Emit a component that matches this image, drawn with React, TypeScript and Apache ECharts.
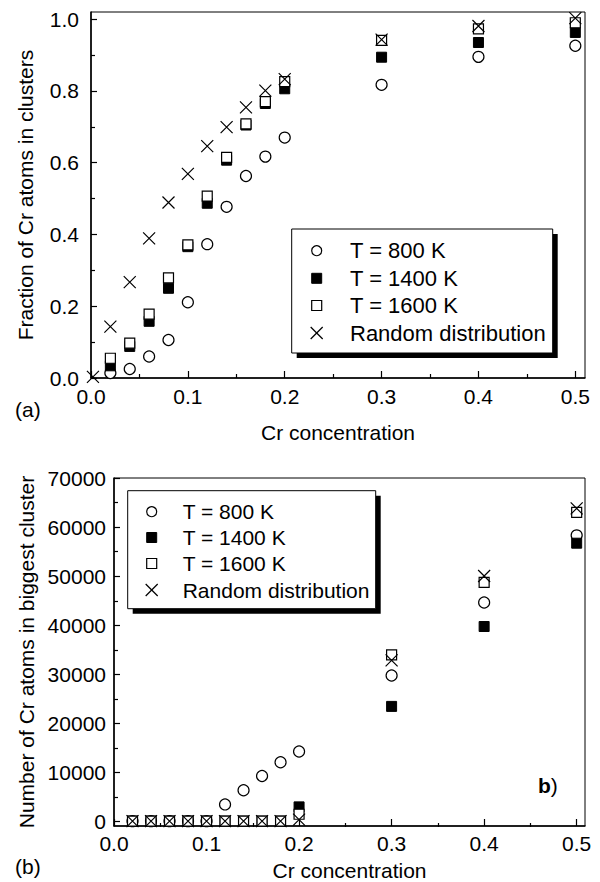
import React, { useEffect, useRef } from "react";
import * as echarts from "echarts";

// ---------- data ----------
const seriesNames = ["T = 800 K", "T = 1400 K", "T = 1600 K", "Random distribution"];
const conc = [0.02, 0.04, 0.06, 0.08, 0.1, 0.12, 0.14, 0.16, 0.18, 0.2, 0.3, 0.4, 0.5];
const concRandomTop = [0.002, 0.02, 0.04, 0.06, 0.08, 0.1, 0.12, 0.14, 0.16, 0.18, 0.2, 0.3, 0.4, 0.5];

// (a) fraction of Cr atoms in clusters
const fracT800 = [0.014, 0.025, 0.06, 0.106, 0.211, 0.373, 0.477, 0.563, 0.617, 0.67, 0.817, 0.895, 0.926];
const fracT1400 = [0.034, 0.088, 0.158, 0.25, 0.366, 0.487, 0.607, 0.705, 0.765, 0.806, 0.894, 0.935, 0.963];
const fracT1600 = [0.055, 0.097, 0.178, 0.279, 0.371, 0.507, 0.615, 0.708, 0.77, 0.826, 0.941, 0.973, 0.99];
const fracRandom = [0.003, 0.143, 0.267, 0.389, 0.489, 0.569, 0.646, 0.699, 0.754, 0.801, 0.833, 0.943, 0.981, 1.003];

// (b) number of Cr atoms in biggest cluster
const numT800 = [0, 0, 0, 0, 0, 3400, 6300, 9200, 12000, 14200, 29700, 44600, 58300];
const numT1400 = [0, 0, 0, 0, 0, 0, 0, 0, 0, 2900, 23400, 39700, 56700];
const numT1600 = [0, 0, 0, 0, 0, 0, 0, 0, 0, 1400, 33900, 48700, 63000];
const numRandom = [0, 0, 0, 0, 0, 0, 0, 0, 0, 300, 32800, 50000, 63800];

// ticks
const xMajor = [0, 0.1, 0.2, 0.3, 0.4, 0.5];
const xMinor = [0.05, 0.15, 0.25, 0.35, 0.45];
const yTopMajor = [0, 0.2, 0.4, 0.6, 0.8, 1.0];
const yTopMinor = [0.1, 0.3, 0.5, 0.7, 0.9];
const yBotMajor = [0, 10000, 20000, 30000, 40000, 50000, 60000, 70000];
const yBotMinor = [5000, 15000, 25000, 35000, 45000, 55000, 65000];

const FONT = "'Liberation Sans', Arial, Helvetica, sans-serif";
const FS = 21;

const SYM_SQUARE = "path://M0,0L10,0L10,10L0,10Z";
const SYM_CROSS = "path://M0,0L10,10M10,0L0,10";

const styles = [
  { symbol: "circle", symbolSize: 11, itemStyle: { color: "#fff", borderColor: "#000", borderWidth: 1.2, opacity: 1 } },
  { symbol: SYM_SQUARE, symbolSize: 10, itemStyle: { color: "#000", borderColor: "#000", borderWidth: 1, opacity: 1 } },
  { symbol: SYM_SQUARE, symbolSize: 10, itemStyle: { color: "#fff", borderColor: "#000", borderWidth: 1.2, opacity: 1 } },
  { symbol: SYM_CROSS, symbolSize: 12, itemStyle: { color: "none", borderColor: "#000", borderWidth: 1.2, opacity: 1 } },
];

const zip = (xs: number[], ys: number[]) => xs.map((x, i) => [x, ys[i]]);

function legendIcon(i: number, cx: number, cy: number): any[] {
  const st = { stroke: "#000", lineWidth: 1.2 };
  if (i === 0) return [{ type: "circle", z: 12, shape: { cx, cy, r: 5 }, style: { fill: "#fff", ...st } }];
  if (i === 1) return [{ type: "rect", z: 12, shape: { x: cx - 5, y: cy - 5, width: 10, height: 10 }, style: { fill: "#000", stroke: "#000", lineWidth: 1 } }];
  if (i === 2) return [{ type: "rect", z: 12, shape: { x: cx - 5, y: cy - 5, width: 10, height: 10 }, style: { fill: "#fff", ...st } }];
  return [
    { type: "line", z: 12, shape: { x1: cx - 6, y1: cy - 6, x2: cx + 6, y2: cy + 6 }, style: st },
    { type: "line", z: 12, shape: { x1: cx + 6, y1: cy - 6, x2: cx - 6, y2: cy + 6 }, style: st },
  ];
}

function legendBlock(box: { x: number; y: number; w: number; h: number }, iconX: number, textX: number, rows: number[], fs: number): any[] {
  const out: any[] = [
    { type: "rect", z: 10, shape: { x: box.x + 5, y: box.y + 5, width: box.w, height: box.h }, style: { fill: "#000" } },
    { type: "rect", z: 11, shape: { x: box.x, y: box.y, width: box.w, height: box.h }, style: { fill: "#fff", stroke: "#000", lineWidth: 1 } },
  ];
  seriesNames.forEach((name, i) => {
    out.push(...legendIcon(i, iconX, rows[i]));
    out.push({
      type: "text",
      z: 12,
      x: textX,
      y: rows[i],
      style: { text: name, font: `${fs}px ${FONT}`, fill: "#000", verticalAlign: "middle", align: "left" },
    });
  });
  return out;
}

export default function App() {
  const ref = useRef<HTMLDivElement>(null);
  useEffect(() => {
    if (!ref.current) return;
    const chart = echarts.init(ref.current, null, { renderer: "svg" });

    const G0 = { left: 91, top: 12, width: 494, height: 366 };
    const G1 = { left: 114, top: 478, width: 471, height: 349 };

    const mainX = (gridIndex: number, max: number, nameGap: number, margin: number) => ({
      type: "value",
      gridIndex,
      min: 0,
      max,
      interval: 0.05,
      name: "Cr concentration",
      nameLocation: "middle",
      nameGap,
      nameTextStyle: { fontFamily: FONT, fontSize: FS, color: "#000" },
      axisLine: { show: true, onZero: false, lineStyle: { color: "#000", width: 1.5 } },
      axisTick: { show: true, inside: true, length: 7, customValues: xMajor, lineStyle: { color: "#000", width: 1.2 } },
      axisLabel: {
        customValues: xMajor,
        margin,
        fontFamily: FONT,
        fontSize: FS,
        color: "#000",
        formatter: (v: number) => v.toFixed(1),
      },
      splitLine: { show: false },
    });
    const minorX = (gridIndex: number, max: number) => ({
      type: "value",
      gridIndex,
      min: 0,
      max,
      interval: 0.05,
      axisLine: { show: false, onZero: false },
      axisTick: { show: true, inside: true, length: 4, customValues: xMinor, lineStyle: { color: "#000", width: 1.2 } },
      axisLabel: { show: false },
      splitLine: { show: false },
    });

    const option: any = {
      animation: false,
      backgroundColor: "#fff",
      textStyle: { fontFamily: FONT },
      grid: [
        { ...G0, show: true, borderColor: "#000", borderWidth: 1, backgroundColor: "transparent" },
        { ...G1, show: true, borderColor: "#000", borderWidth: 1, backgroundColor: "transparent" },
        { ...G0, show: false },
        { ...G1, show: false },
      ],
      xAxis: [
        mainX(0, 0.51, 44, 8),
        mainX(1, 0.509, 34, 7),
        minorX(2, 0.51),
        minorX(3, 0.509),
      ],
      yAxis: [
        {
          type: "value",
          gridIndex: 0,
          min: 0,
          max: 1.02,
          interval: 0.1,
          name: "Fraction of Cr atoms in clusters",
          nameLocation: "middle",
          nameGap: 55,
          nameTextStyle: { fontFamily: FONT, fontSize: FS, color: "#000" },
          axisLine: { show: true, onZero: false, lineStyle: { color: "#000", width: 1.5 } },
          axisTick: { show: true, inside: true, length: 6, customValues: yTopMajor, lineStyle: { color: "#000", width: 1.2 } },
          axisLabel: {
            customValues: yTopMajor,
            margin: 12,
            fontFamily: FONT,
            fontSize: FS,
            color: "#000",
            formatter: (v: number) => v.toFixed(1),
          },
          splitLine: { show: false },
        },
        {
          type: "value",
          gridIndex: 1,
          min: -1000,
          max: 70000,
          interval: 5000,
          name: "Number of Cr atoms in biggest cluster",
          nameLocation: "middle",
          nameGap: 77,
          nameTextStyle: { fontFamily: FONT, fontSize: FS, color: "#000" },
          axisLine: { show: true, onZero: false, lineStyle: { color: "#000", width: 1.5 } },
          axisTick: { show: true, inside: true, length: 6, customValues: yBotMajor, lineStyle: { color: "#000", width: 1.2 } },
          axisLabel: {
            customValues: yBotMajor,
            margin: 8,
            fontFamily: FONT,
            fontSize: FS,
            color: "#000",
            formatter: (v: number) => String(Math.round(v)),
          },
          splitLine: { show: false },
        },
        {
          type: "value",
          gridIndex: 2,
          min: 0,
          max: 1.02,
          interval: 0.1,
          axisLine: { show: false, onZero: false },
          axisTick: { show: true, inside: true, length: 4, customValues: yTopMinor, lineStyle: { color: "#000", width: 1.2 } },
          axisLabel: { show: false },
          splitLine: { show: false },
        },
        {
          type: "value",
          gridIndex: 3,
          min: -1000,
          max: 70000,
          interval: 5000,
          axisLine: { show: false, onZero: false },
          axisTick: { show: true, inside: true, length: 4, customValues: yBotMinor, lineStyle: { color: "#000", width: 1.2 } },
          axisLabel: { show: false },
          splitLine: { show: false },
        },
      ],
      graphic: [
        ...legendBlock({ x: 291.7, y: 229, w: 261, h: 124 }, 316.7, 350, [250.7, 278.3, 305.5, 333], 22),
        ...legendBlock({ x: 127.7, y: 490.7, w: 248, h: 118 }, 151.7, 182.7, [511.7, 537.5, 563.5, 590], 21),
        { type: "text", x: 15, y: 409, style: { text: "(a)", font: `${FS}px ${FONT}`, fill: "#000", verticalAlign: "middle" } },
        { type: "text", x: 15, y: 866, style: { text: "(b)", font: `${FS}px ${FONT}`, fill: "#000", verticalAlign: "middle" } },
        {
          type: "text",
          x: 538,
          y: 785,
          style: {
            text: "{b|b})",
            font: `${FS}px ${FONT}`,
            fill: "#000",
            verticalAlign: "middle",
            rich: { b: { fontWeight: "bold", fontSize: FS, fontFamily: FONT, fill: "#000" } },
          },
        },
      ],
      series: [
        { name: seriesNames[0], type: "scatter", xAxisIndex: 0, yAxisIndex: 0, z: 2, data: zip(conc, fracT800), ...styles[0] },
        { name: seriesNames[1], type: "scatter", xAxisIndex: 0, yAxisIndex: 0, z: 3, data: zip(conc, fracT1400), ...styles[1] },
        { name: seriesNames[2], type: "scatter", xAxisIndex: 0, yAxisIndex: 0, z: 4, data: zip(conc, fracT1600), ...styles[2] },
        { name: seriesNames[3], type: "scatter", xAxisIndex: 0, yAxisIndex: 0, z: 5, data: zip(concRandomTop, fracRandom), ...styles[3] },
        { name: seriesNames[0], type: "scatter", xAxisIndex: 1, yAxisIndex: 1, z: 2, data: zip(conc, numT800), ...styles[0] },
        { name: seriesNames[1], type: "scatter", xAxisIndex: 1, yAxisIndex: 1, z: 3, data: zip(conc, numT1400), ...styles[1] },
        { name: seriesNames[2], type: "scatter", xAxisIndex: 1, yAxisIndex: 1, z: 4, data: zip(conc, numT1600), ...styles[2] },
        { name: seriesNames[3], type: "scatter", xAxisIndex: 1, yAxisIndex: 1, z: 5, data: zip(conc, numRandom), ...styles[3] },
      ],
    };
    chart.setOption(option);
    return () => chart.dispose();
  }, []);
  return <div ref={ref} style={{ width: 600, height: 882, position: "absolute", left: 0, top: 0 }} />;
}
